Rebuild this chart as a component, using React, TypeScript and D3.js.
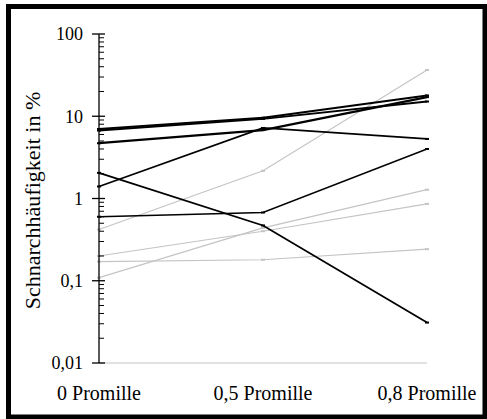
import React from "react";
import * as d3 from "d3";

const categories = ["0 Promille", "0,5 Promille", "0,8 Promille"];
const yTickValues = [0.01, 0.1, 1, 10, 100];
const yTickLabels = ["0,01", "0,1", "1", "10", "100"];
const yTitle = "Schnarchhäufigkeit in %";

// dark series
const blackA = [7.0, 9.6, 17.9];
const blackB = [6.7, 9.3, 15.1];
const blackC = [4.7, 6.8, 17.1];
const blackD = [1.4, 7.2, 5.3];
const blackE = [2.05, 0.47, 0.031];
const blackF = [0.6, 0.676, 4.0];
// light series
const grayA = [0.42, 2.17, 36.5];
const grayB = [0.2, 0.4, 0.86];
const grayC = [0.109, 0.44, 1.28];
const grayD = [0.171, 0.18, 0.242];

const W = 487;
const H = 419;

export default function App() {
  const x = d3.scalePoint<string>().domain(categories).range([99, 427]);
  const y = d3.scaleLog().domain([0.01, 100]).range([363, 34]);

  const line = d3
    .line<number>()
    .x((_, i) => x(categories[i]) as number)
    .y((d) => y(d));

  const series = [
    { v: grayA, c: "#c4c4c4", w: 1.2 },
    { v: grayB, c: "#c4c4c4", w: 1.2 },
    { v: grayC, c: "#c4c4c4", w: 1.2 },
    { v: grayD, c: "#c4c4c4", w: 1.2 },
    { v: blackF, c: "#000", w: 1.4 },
    { v: blackE, c: "#000", w: 1.8 },
    { v: blackD, c: "#000", w: 1.7 },
    { v: blackC, c: "#000", w: 2.3 },
    { v: blackB, c: "#000", w: 1.9 },
    { v: blackA, c: "#000", w: 1.9 },
  ];

  const minor: number[] = [];
  for (let k = -2; k <= 1; k++) {
    for (let m = 2; m <= 9; m++) minor.push(m * Math.pow(10, k));
  }

  const font = "Liberation Serif";

  return (
    <svg
      width={W}
      height={H}
      style={{ position: "absolute", left: 0, top: 0, background: "#fff" }}
    >
      <rect x={0} y={0} width={W} height={H} fill="#fff" />
      <rect
        x={8.5}
        y={6.5}
        width={476.5}
        height={410.5}
        fill="none"
        stroke="#000"
        strokeWidth={5}
      />
      {/* x axis baseline */}
      <line x1={99} x2={427} y1={y(0.01)} y2={y(0.01)} stroke="#c4c4c4" strokeWidth={1.2} />
      {/* series */}
      {series.map((s, i) => (
        <g key={i}>
          <path d={line(s.v) as string} fill="none" stroke={s.c} strokeWidth={s.w} />
          {s.v.map((d, j) => (
            <rect
              key={j}
              x={(x(categories[j]) as number) - 2}
              y={y(d) - 1}
              width={4}
              height={2}
              fill={s.c}
            />
          ))}
        </g>
      ))}
      {/* y axis */}
      <line x1={99} x2={99} y1={y(100)} y2={y(0.01)} stroke="#000" strokeWidth={1.3} />
      {minor.map((m, i) => (
        <line key={i} x1={99} x2={104} y1={y(m)} y2={y(m)} stroke="#000" strokeWidth={1} />
      ))}
      {yTickValues.map((t, i) => (
        <g key={t}>
          <line x1={92} x2={105} y1={y(t)} y2={y(t)} stroke="#000" strokeWidth={1.3} />
          <text
            x={83}
            y={y(t)}
            dy="0.35em"
            textAnchor="end"
            fontFamily={font}
            fontSize={18}
            fill="#000"
          >
            {yTickLabels[i]}
          </text>
        </g>
      ))}
      {categories.map((c) => (
        <text
          key={c}
          x={x(c) as number}
          y={400}
          textAnchor="middle"
          fontFamily={font}
          fontSize={20}
          fill="#000"
        >
          {c}
        </text>
      ))}
      <text
        transform={`translate(40,200.5) rotate(-90)`}
        textAnchor="middle"
        fontFamily={font}
        fontSize={22}
        fill="#000"
      >
        {yTitle}
      </text>
    </svg>
  );
}
